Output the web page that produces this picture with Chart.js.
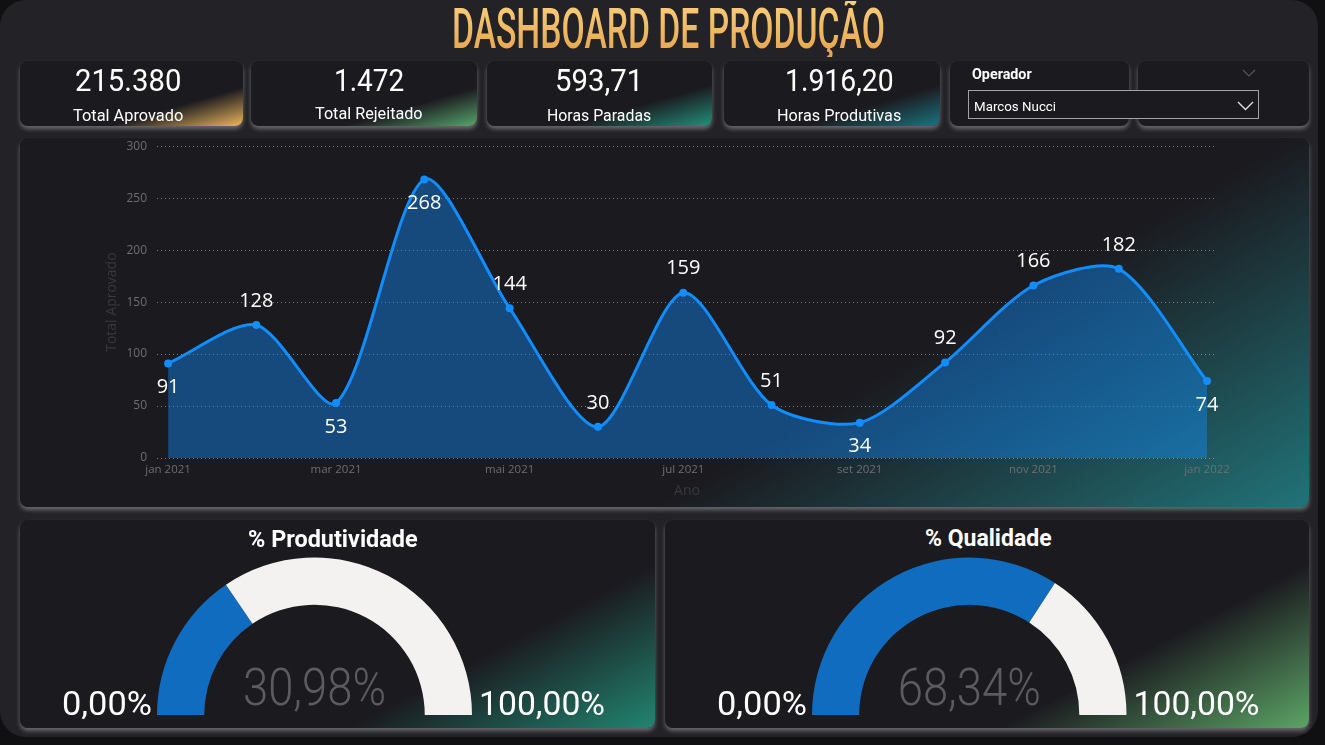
<!DOCTYPE html>
<html><head><meta charset="utf-8">
<script src="https://cdn.jsdelivr.net/npm/chart.js@4.4.1/dist/chart.umd.min.js"></script>
<style>
html,body{margin:0;padding:0;background:#101012;width:1325px;height:745px;overflow:hidden;font-family:Roboto,'Open Sans',sans-serif;}
#panel{position:absolute;left:0;top:0;width:1318px;height:737px;background:#232327;border-radius:26px;}
.card{position:absolute;background:#1b1a1f;border-radius:8px;box-shadow:0 3px 4px rgba(150,150,156,.6);overflow:hidden}
.fit{position:absolute;white-space:nowrap;transform-origin:0 0;color:#fff;line-height:1;top:0;left:0}
canvas{position:absolute}
#title{background:linear-gradient(#f9cf7e,#e6a34a);-webkit-background-clip:text;background-clip:text;color:transparent;}
#dd{position:absolute;left:968px;top:90px;width:289px;height:27px;border:1px solid #a3a3a3;background:#1b1a1f;}
</style></head>
<body>
<div id="panel"></div>
<div class="card" style="left:20px;top:61px;width:223px;height:65px;background:linear-gradient(to bottom right,#1b1a1f 70%,#ecb75e 100%)"></div>
<div class="card" style="left:251px;top:61px;width:226px;height:65px;background:linear-gradient(to bottom right,#1b1a1f 70%,#58a46c 100%)"></div>
<div class="card" style="left:487px;top:61px;width:225px;height:65px;background:linear-gradient(to bottom right,#1b1a1f 68%,#22917a 100%)"></div>
<div class="card" style="left:724px;top:61px;width:216px;height:65px;background:linear-gradient(to bottom right,#1b1a1f 68%,#1d7480 100%)"></div>
<div class="card" style="left:950px;top:61px;width:179px;height:65px;"></div>
<div class="card" style="left:1138px;top:61px;width:171px;height:65px;"></div>
<div class="card" style="left:20px;top:138px;width:1289px;height:369px;background:linear-gradient(150deg,#1b1a1f 66%,#217378 100%)"></div>
<div class="card" style="left:20px;top:520px;width:635px;height:208px;background:linear-gradient(152deg,#1b1a1f 70%,#218570 100%)"></div>
<div class="card" style="left:665px;top:520px;width:644px;height:208px;background:linear-gradient(152deg,#1b1a1f 70%,#5ca466 100%)"></div>

<div id="dd"></div>
<svg style="position:absolute;left:0;top:0" width="1325" height="745">
  <polyline points="1238,102 1245.5,109.5 1253,102" fill="none" stroke="#e0e0e0" stroke-width="1.4"/>
  <polyline points="1243,70 1249,76 1255,70" fill="none" stroke="#55555a" stroke-width="1.2"/>
</svg>

<div id="texts"></div>

<canvas id="line" width="1289" height="378" style="left:20px;top:129px"></canvas>
<canvas id="g1" width="635" height="208" style="left:20px;top:520px"></canvas>
<canvas id="g2" width="644" height="208" style="left:665px;top:520px"></canvas>

<script>
// ---- data ----
const dashboardTitle = 'DASHBOARD DE PRODUÇÃO';
const kpiValues = ['215.380', '1.472', '593,71', '1.916,20'];
const kpiLabels = ['Total Aprovado', 'Total Rejeitado', 'Horas Paradas', 'Horas Produtivas'];
const filterTitle = 'Operador';
const filterValue = 'Marcos Nucci';
const months = ['jan 2021','fev 2021','mar 2021','abr 2021','mai 2021','jun 2021','jul 2021','ago 2021','set 2021','out 2021','nov 2021','dez 2021','jan 2022'];
const monthDates = ['2021-01-01','2021-02-01','2021-03-01','2021-04-01','2021-05-01','2021-06-01','2021-07-01','2021-08-01','2021-09-01','2021-10-01','2021-11-01','2021-12-01','2022-01-01'];
const totalAprovado = [91, 128, 53, 268, 144, 30, 159, 51, 34, 92, 166, 182, 74];
const xTickIdx = [0, 2, 4, 6, 8, 10, 12];
const yTicks = [0, 50, 100, 150, 200, 250, 300];
const gaugeTitles = ['% Produtividade', '% Qualidade'];
const gaugeValues = [30.98, 68.34];
const gaugeMin = 0, gaugeMax = 100;

// label placement (style)
const labelSide = ['below','above','below','below','above','above','above','above','below','above','above','above','below'];

const fmtPct = v => v.toFixed(2).replace('.', ',') + '%';
// time axis: days since first month
const dayOf = d => Math.round((Date.parse(d) - Date.parse(monthDates[0])) / 86400000);
const xDays = monthDates.map(dayOf);

// ---- html texts ----
const T = document.getElementById('texts');
function addText(txt, opts){
  const d = document.createElement('div');
  d.className = 'fit';
  if (opts.id) d.id = opts.id;
  d.textContent = txt;
  d.style.fontSize = opts.fs + 'px';
  d.style.fontWeight = opts.fw || 400;
  if (opts.color) d.style.color = opts.color;
  T.appendChild(d);
  const w = d.offsetWidth;
  const s = opts.w / w;
  const left = opts.cx !== undefined ? opts.cx - opts.w / 2 : opts.x;
  const top = opts.capTop - 0.131 * opts.fs;
  d.style.left = left + 'px';
  d.style.top = top + 'px';
  d.style.transform = 'scaleX(' + s + ')';
  return d;
}
addText(dashboardTitle, {id:'title', fs:56, fw:500, w:433, cx:668, capTop:8});
const kpiCx = [128, 369, 599, 839];
const kpiVW = [106, 70, 88, 109];
const kpiLW = [110, 108, 104, 124];
const kpiLTop = [109, 107, 109, 109];
kpiValues.forEach((v,i)=>addText(v, {fs:32, w:kpiVW[i], cx:kpiCx[i], capTop:68}));
kpiLabels.forEach((v,i)=>addText(v, {fs:17.4, w:kpiLW[i], cx:kpiCx[i], capTop:kpiLTop[i]}));
addText(filterTitle, {fs:15.5, fw:700, w:60, x:972, capTop:69});
addText(filterValue, {fs:13, w:82, x:974, capTop:101.5});
addText(gaugeTitles[0], {fs:23, fw:700, w:170, cx:332.5, capTop:531.5});
addText(gaugeTitles[1], {fs:23, fw:700, w:127, cx:988.5, capTop:530.5});

// ---- line chart ----
const labelFont = '20px "Segoe UI", "Open Sans", sans-serif';
const dataLabels = {
  id:'dataLabels',
  afterDatasetsDraw(chart){
    const ctx = chart.ctx;
    const meta = chart.getDatasetMeta(0);
    ctx.save();
    ctx.font = labelFont;
    ctx.fillStyle = '#ffffff';
    ctx.textAlign = 'center';
    ctx.textBaseline = 'middle';
    meta.data.forEach((el, i) => {
      const dy = labelSide[i] === 'above' ? -24 : 24;
      ctx.fillText(String(totalAprovado[i]), el.x, el.y + dy);
    });
    ctx.restore();
  }
};
Chart.defaults.font.family = '"Segoe UI", "Open Sans", sans-serif';
new Chart(document.getElementById('line'), {
  type: 'line',
  data: { datasets: [{
    data: totalAprovado.map((v, i) => ({x: xDays[i], y: v})),
    borderColor: '#118DFF', borderWidth: 3,
    pointRadius: 4, pointBackgroundColor: '#118DFF', pointBorderWidth: 0,
    tension: 0.27, fill: 'origin', backgroundColor: 'rgba(17,141,255,0.42)'
  }]},
  options: {
    responsive: false, animation: false, events: [],
    layout: { padding: { left: 84, top: 0, right: 92, bottom: 7 } },
    plugins: { legend: { display: false }, tooltip: { enabled: false } },
    scales: {
      x: {
        type: 'linear', min: -3.9, max: 368.5,
        afterBuildTicks: s => { s.ticks = xTickIdx.map(i => ({ value: xDays[i] })); },
        ticks: { callback: v => months[xDays.indexOf(v)], color: '#6e6e72', font: { size: 11.5 }, padding: 5, maxRotation: 0, autoSkip: false },
        grid: { display: false, drawTicks: false }, border: { display: false },
        title: { display: true, text: 'Ano', color: '#38383d', font: { size: 14 }, padding: { top: 2, bottom: 1 } },
        afterFit: s => { s.height = 42; }
      },
      y: {
        min: 0, max: 300,
        afterBuildTicks: s => { s.ticks = yTicks.map(v => ({ value: v })); },
        ticks: { color: '#6e6e72', font: { size: 12 }, padding: 10 },
        grid: { color: 'rgba(185,185,190,0.6)', drawTicks: false, lineWidth: 1 },
        border: { display: false, dash: [1, 3] },
        title: { display: true, text: 'Total Aprovado', color: '#38383d', font: { size: 14 }, padding: { top: 0, bottom: 0 } },
        afterFit: s => { s.width = 53; }
      }
    }
  },
  plugins: [dataLabels]
});

// ---- gauges ----
function fitText(ctx, txt, x, y, font, color, w, align){
  ctx.save();
  ctx.font = font;
  const m = ctx.measureText(txt).width;
  const left = align === 'right' ? x - w : align === 'center' ? x - w / 2 : x;
  ctx.translate(left, y);
  ctx.scale(w / m, 1);
  ctx.fillStyle = color;
  ctx.textAlign = 'left';
  ctx.textBaseline = 'alphabetic';
  ctx.fillText(txt, 0, 0);
  ctx.restore();
}
const gaugeText = {
  id: 'gaugeText',
  afterDraw(chart){
    const ctx = chart.ctx, a = chart.chartArea;
    const val = chart.data.datasets[0].data[0];
    const cx = (a.left + a.right) / 2;
    fitText(ctx, fmtPct(gaugeMin), a.left - 5, a.bottom - 0.5, '400 34px Roboto', '#ffffff', 90, 'right');
    fitText(ctx, fmtPct(gaugeMax), a.right + 7, a.bottom - 0.5, '400 34px Roboto', '#ffffff', 126, 'left');
    fitText(ctx, fmtPct(val), cx, a.bottom - 10, '300 52px Roboto', '#5c5c60', 143, 'center');
  }
};
function gauge(id, value, pad){
  new Chart(document.getElementById(id), {
    type: 'doughnut',
    data: { datasets: [{ data: [value, gaugeMax - value], backgroundColor: ['#106CBE', '#F3F2F1'], borderWidth: 0, hoverOffset: 0 }] },
    options: {
      responsive: false, animation: false, events: [],
      circumference: 180, rotation: -90, cutout: '70%',
      layout: { padding: pad },
      plugins: { legend: { display: false }, tooltip: { enabled: false } }
    },
    plugins: [gaugeText]
  });
}
gauge('g1', gaugeValues[0], { left: 137, right: 183, top: 37.5, bottom: 13 });
gauge('g2', gaugeValues[1], { left: 147, right: 182.5, top: 37.5, bottom: 13 });
</script>
</body></html>
